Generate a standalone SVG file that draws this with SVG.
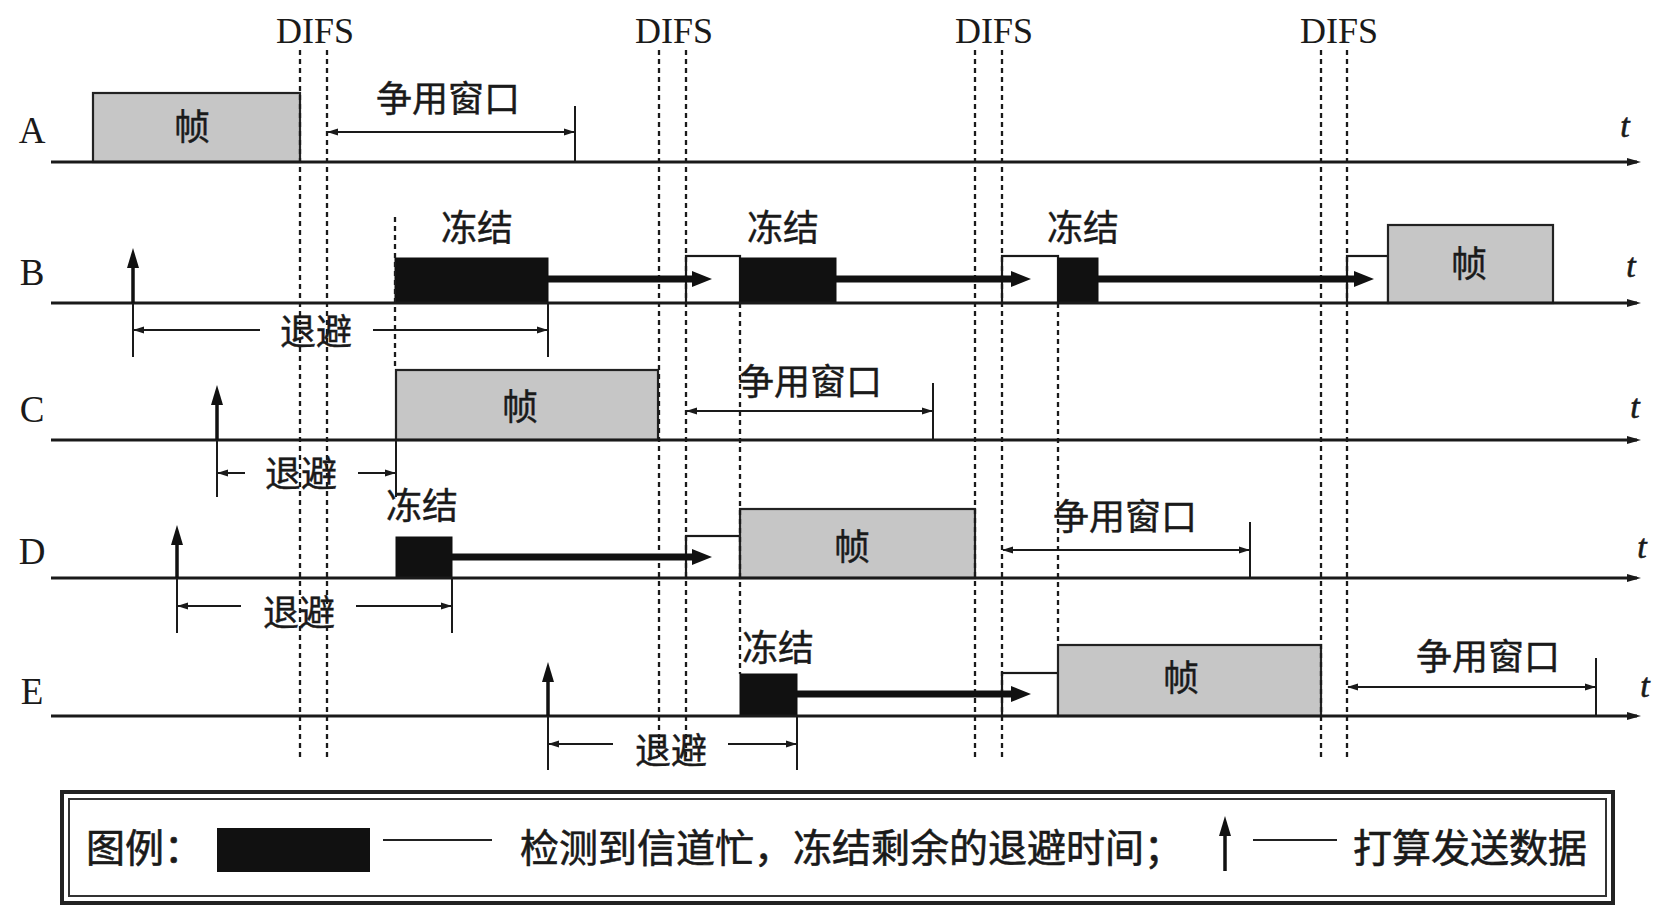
<svg xmlns="http://www.w3.org/2000/svg" width="1670" height="920" viewBox="0 0 1670 920">
<defs>
<style>
.lbl{font-family:"Liberation Serif","Times New Roman",serif;font-size:37px;fill:#1a1a1a;text-anchor:middle}
.difs{font-family:"Liberation Serif","Times New Roman",serif;font-size:36px;fill:#1a1a1a;text-anchor:middle}
.t{font-family:"Liberation Serif","Times New Roman",serif;font-style:italic;font-size:34px;fill:#1a1a1a;stroke:#1a1a1a;stroke-width:0.6;text-anchor:middle}
.cn{font-family:"Noto Sans CJK SC","Noto Sans",sans-serif;font-size:36px;fill:#1a1a1a;stroke:#1a1a1a;stroke-width:0.4;text-anchor:middle}
.lg{font-family:"Noto Sans CJK SC","Noto Sans",sans-serif;font-size:39px;fill:#1a1a1a;stroke:#1a1a1a;stroke-width:0.6}
.axis{stroke:#1a1a1a;stroke-width:3;fill:none;marker-end:url(#axHead)}
.dash{stroke:#1a1a1a;stroke-width:2.3;stroke-dasharray:5 4;fill:none}
.dim2{stroke:#1a1a1a;stroke-width:2;fill:none;marker-start:url(#dmHead);marker-end:url(#dmHead)}
.dimL{stroke:#1a1a1a;stroke-width:2;fill:none;marker-start:url(#dmHead)}
.dimR{stroke:#1a1a1a;stroke-width:2;fill:none;marker-end:url(#dmHead)}
.tick{stroke:#1a1a1a;stroke-width:2;fill:none}
.thick{stroke:#111;stroke-width:7;fill:none;marker-end:url(#thHead)}
.up{stroke:#111;stroke-width:3.5;fill:none;marker-end:url(#upHead)}
.frame{fill:#c6c6c6;stroke:#222;stroke-width:2.2}
.frz{fill:#111;stroke:#111;stroke-width:1}
.wbox{fill:#fff;stroke:#1a1a1a;stroke-width:2.2}
</style>
<marker id="axHead" viewBox="0 0 14 10" refX="10" refY="5" markerWidth="14" markerHeight="10" markerUnits="userSpaceOnUse" orient="auto"><path d="M0,1 L14,5 L0,9 Z" fill="#1a1a1a"/></marker>
<marker id="dmHead" viewBox="0 0 11 8" refX="10" refY="4" markerWidth="11" markerHeight="8" markerUnits="userSpaceOnUse" orient="auto-start-reverse"><path d="M0,0.5 L11,4 L0,7.5 Z" fill="#1a1a1a"/></marker>
<marker id="thHead" viewBox="0 0 20 16" refX="3" refY="8" markerWidth="20" markerHeight="16" markerUnits="userSpaceOnUse" orient="auto"><path d="M0,0 L20,8 L0,16 Z" fill="#111"/></marker>
<marker id="upHead" viewBox="0 0 20 12" refX="3" refY="6" markerWidth="20" markerHeight="12" markerUnits="userSpaceOnUse" orient="auto"><path d="M0,0 L20,6 L0,12 Z" fill="#111"/></marker>
</defs>
<rect width="1670" height="920" fill="#fff"/>

<g id="labels">
<text class="difs" x="315" y="43">DIFS</text>
<text class="difs" x="674" y="43">DIFS</text>
<text class="difs" x="994" y="43">DIFS</text>
<text class="difs" x="1339" y="43">DIFS</text>
<text class="lbl" x="32" y="143">A</text>
<text class="lbl" x="32" y="285">B</text>
<text class="lbl" x="32" y="422">C</text>
<text class="lbl" x="32" y="564">D</text>
<text class="lbl" x="32" y="704">E</text>
<text class="t" x="1625" y="137">t</text>
<text class="t" x="1631" y="277">t</text>
<text class="t" x="1635" y="418">t</text>
<text class="t" x="1642" y="558">t</text>
<text class="t" x="1645" y="697">t</text>
</g>

<g id="row-A">
<rect id="A-frame" class="frame" x="93" y="93" width="207" height="69"/>
<text class="cn" x="192" y="140">帧</text>
<text class="cn" x="448" y="112">争用窗口</text>
</g>

<g id="row-B">
<rect id="B-freeze1" class="frz" x="395" y="258" width="153" height="45"/>
<rect id="B-wait1" class="wbox" x="686" y="256" width="54" height="47"/>
<rect id="B-freeze2" class="frz" x="740" y="258" width="96" height="45"/>
<rect id="B-wait2" class="wbox" x="1002" y="256" width="56" height="47"/>
<rect id="B-freeze3" class="frz" x="1058" y="258" width="40" height="45"/>
<rect id="B-wait3" class="wbox" x="1347" y="256" width="41" height="47"/>
<rect id="B-frame" class="frame" x="1388" y="225" width="165" height="78"/>
<text class="cn" x="477" y="241">冻结</text>
<text class="cn" x="783" y="241">冻结</text>
<text class="cn" x="1083" y="241">冻结</text>
<text class="cn" x="1469" y="277">帧</text>
<text class="cn" x="316" y="345">退避</text>
</g>

<g id="row-C">
<rect id="C-frame" class="frame" x="396" y="370" width="262" height="70"/>
<text class="cn" x="520" y="420">帧</text>
<text class="cn" x="810" y="395">争用窗口</text>
<text class="cn" x="301" y="487">退避</text>
</g>

<g id="row-D">
<rect id="D-freeze" class="frz" x="396" y="537" width="56" height="41"/>
<rect id="D-wait" class="wbox" x="686" y="536" width="54" height="42"/>
<rect id="D-frame" class="frame" x="740" y="509" width="235" height="69"/>
<text class="cn" x="422" y="519">冻结</text>
<text class="cn" x="852" y="560">帧</text>
<text class="cn" x="1125" y="530">争用窗口</text>
<text class="cn" x="299" y="626">退避</text>
</g>

<g id="row-E">
<rect id="E-freeze" class="frz" x="740" y="674" width="57" height="42"/>
<rect id="E-wait" class="wbox" x="1002" y="673" width="56" height="43"/>
<rect id="E-frame" class="frame" x="1058" y="645" width="263" height="71"/>
<text class="cn" x="778" y="661">冻结</text>
<text class="cn" x="1181" y="691">帧</text>
<text class="cn" x="1488" y="670">争用窗口</text>
<text class="cn" x="671" y="764">退避</text>
</g>

<g id="connectors">
<line class="axis" x1="51" y1="162" x2="1637" y2="162"/>
<line class="axis" x1="51" y1="303" x2="1637" y2="303"/>
<line class="axis" x1="51" y1="440" x2="1637" y2="440"/>
<line class="axis" x1="51" y1="578" x2="1637" y2="578"/>
<line class="axis" x1="51" y1="716" x2="1637" y2="716"/>
<line class="dash" x1="300" y1="50" x2="300" y2="758"/>
<line class="dash" x1="327" y1="50" x2="327" y2="758"/>
<line class="dash" x1="659" y1="50" x2="659" y2="758"/>
<line class="dash" x1="686" y1="50" x2="686" y2="758"/>
<line class="dash" x1="975" y1="50" x2="975" y2="758"/>
<line class="dash" x1="1002" y1="50" x2="1002" y2="758"/>
<line class="dash" x1="1321" y1="50" x2="1321" y2="758"/>
<line class="dash" x1="1347" y1="50" x2="1347" y2="758"/>
<line class="dash" x1="395" y1="217" x2="395" y2="370"/>
<line class="dash" x1="740" y1="303" x2="740" y2="674"/>
<line class="dash" x1="1058" y1="303" x2="1058" y2="645"/>
<line class="thick" x1="548" y1="279" x2="695" y2="279"/>
<line class="thick" x1="836" y1="279" x2="1014" y2="279"/>
<line class="thick" x1="1098" y1="279" x2="1357" y2="279"/>
<line class="thick" x1="452" y1="557" x2="695" y2="557"/>
<line class="thick" x1="797" y1="694" x2="1014" y2="694"/>
<line class="up" x1="133" y1="303" x2="133" y2="265"/>
<line class="up" x1="217" y1="440" x2="217" y2="402"/>
<line class="up" x1="177" y1="578" x2="177" y2="542"/>
<line class="up" x1="548" y1="716" x2="548" y2="679"/>
<line class="tick" x1="575" y1="106" x2="575" y2="162"/>
<line class="dim2" x1="328" y1="132" x2="574" y2="132"/>
<line class="tick" x1="933" y1="383" x2="933" y2="440"/>
<line class="dim2" x1="687" y1="411" x2="932" y2="411"/>
<line class="tick" x1="1250" y1="522" x2="1250" y2="578"/>
<line class="dim2" x1="1003" y1="550" x2="1249" y2="550"/>
<line class="tick" x1="1596" y1="658" x2="1596" y2="716"/>
<line class="dim2" x1="1348" y1="687" x2="1595" y2="687"/>
<line class="tick" x1="133" y1="303" x2="133" y2="357"/>
<line class="tick" x1="548" y1="303" x2="548" y2="357"/>
<line class="dimL" x1="134" y1="330" x2="260" y2="330"/>
<line class="dimR" x1="373" y1="330" x2="547" y2="330"/>
<line class="tick" x1="217" y1="440" x2="217" y2="497"/>
<line class="tick" x1="396" y1="440" x2="396" y2="497"/>
<line class="dimL" x1="218" y1="473" x2="245" y2="473"/>
<line class="dimR" x1="358" y1="473" x2="395" y2="473"/>
<line class="tick" x1="177" y1="578" x2="177" y2="633"/>
<line class="tick" x1="452" y1="578" x2="452" y2="633"/>
<line class="dimL" x1="178" y1="606" x2="241" y2="606"/>
<line class="dimR" x1="356" y1="606" x2="451" y2="606"/>
<line class="tick" x1="548" y1="716" x2="548" y2="770"/>
<line class="tick" x1="797" y1="716" x2="797" y2="770"/>
<line class="dimL" x1="549" y1="744" x2="613" y2="744"/>
<line class="dimR" x1="728" y1="744" x2="796" y2="744"/>
</g>

<g id="legend">
<rect x="62" y="792" width="1551" height="111" fill="#fff" stroke="#222" stroke-width="4"/>
<rect x="69" y="799" width="1537" height="97" fill="none" stroke="#333" stroke-width="2"/>
<text class="lg" x="86" y="862">图例：</text>
<rect x="217" y="828" width="153" height="44" fill="#111"/>
<line x1="383" y1="840" x2="492" y2="840" stroke="#222" stroke-width="2.2"/>
<text class="lg" x="520" y="862">检测到信道忙，冻结剩余的退避时间；</text>
<line class="up" x1="1225" y1="871" x2="1225" y2="833"/>
<line x1="1253" y1="840" x2="1337" y2="840" stroke="#222" stroke-width="2.2"/>
<text class="lg" x="1353" y="862">打算发送数据</text>
</g>
</svg>
